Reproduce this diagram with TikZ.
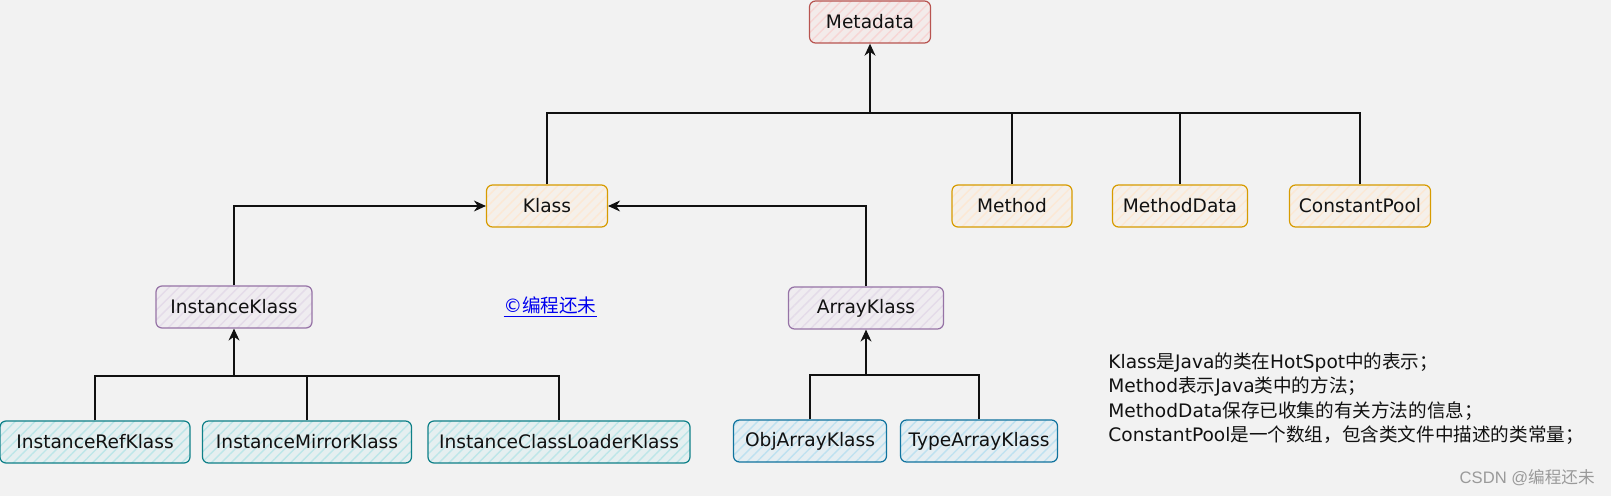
\documentclass[tikz,border=0pt]{standalone}
\usepackage{fontspec}
\setmainfont{DejaVu Sans}
\newfontfamily\cjk{Noto Sans CJK SC}
\newfontfamily\markfont{Liberation Sans}
\usepackage{tikz}
\usetikzlibrary{arrows.meta,positioning,patterns.meta}
\definecolor{Ink}{HTML}{111111}
\definecolor{Bg}{HTML}{F2F2F2}
\definecolor{RedLine}{HTML}{B85450}
\definecolor{RedSoft}{HTML}{F8CECC}
\definecolor{OrangeLine}{HTML}{D79B00}
\definecolor{OrangeSoft}{HTML}{FFE6CC}
\definecolor{PurpleLine}{HTML}{9673A6}
\definecolor{PurpleSoft}{HTML}{E1D5E7}
\definecolor{TealLine}{HTML}{0E8088}
\definecolor{TealSoft}{HTML}{B0E3E6}
\definecolor{BlueLine}{HTML}{10739E}
\definecolor{BlueSoft}{HTML}{B1DDF0}
\definecolor{LinkBlue}{HTML}{0000EE}
\definecolor{MarkGray}{HTML}{9A9A9A}
\tikzset{
  cls/.style={draw,line width=.6pt,rounded corners=3pt,minimum height=21pt,inner xsep=4pt,align=center,text=Ink,font=\fontsize{9.3}{11}\selectfont},
  clsred/.style={cls,draw=RedLine,preaction={fill=RedSoft!20!Bg},pattern={Lines[angle=45,distance=3.5pt,line width=.7pt]},pattern color=RedSoft!80!Bg},
  clsorange/.style={cls,draw=OrangeLine,preaction={fill=OrangeSoft!20!Bg},pattern={Lines[angle=45,distance=3.5pt,line width=.7pt]},pattern color=OrangeSoft!80!Bg},
  clspurple/.style={cls,draw=PurpleLine,preaction={fill=PurpleSoft!20!Bg},pattern={Lines[angle=45,distance=3.5pt,line width=.7pt]},pattern color=PurpleSoft!80!Bg},
  clsteal/.style={cls,draw=TealLine,preaction={fill=TealSoft!20!Bg},pattern={Lines[angle=45,distance=3.5pt,line width=.7pt]},pattern color=TealSoft!80!Bg},
  clsblue/.style={cls,draw=BlueLine,preaction={fill=BlueSoft!20!Bg},pattern={Lines[angle=45,distance=3.5pt,line width=.7pt]},pattern color=BlueSoft!80!Bg},
  arrow/.style={-{Stealth[length=6pt,width=5.5pt]},line width=.55pt,draw=Ink},
  link/.style={line width=.55pt,draw=Ink}
}
\begin{document}
\begin{tikzpicture}[x=.5pt,y=-.5pt]
  % canvas
  \fill[Bg] (0,0) rectangle (1611,496);
  \useasboundingbox (0,0) rectangle (1611,496);
  % top level
  \node[clsred,minimum width=60.5pt] (metadata) at (870,22) {Metadata};
  \node[clsorange,minimum width=60.5pt] (klass) at (547,206) {Klass};
  \node[clsorange,minimum width=60pt] (method) at (1012,206) {Method};
  \node[clsorange,minimum width=67.5pt] (methoddata) at (1180,206) {MethodData};
  \node[clsorange,minimum width=70.5pt] (constpool) at (1360,206) {ConstantPool};
  % klass subtypes
  \node[clspurple,minimum width=78pt] (instklass) at (234,307) {InstanceKlass};
  \node[clspurple,minimum width=77.5pt] (arrayklass) at (866,308) {ArrayKlass};
  \node[clsteal,minimum width=95pt] (instref) at (95,442) {InstanceRefKlass};
  \node[clsteal,minimum width=104.5pt] (instmirror) at (307,442) {InstanceMirrorKlass};
  \node[clsteal,minimum width=131pt] (instloader) at (559,442) {InstanceClassLoaderKlass};
  \node[clsblue,minimum width=76.5pt] (objarray) at (810,441) {ObjArrayKlass};
  \node[clsblue,minimum width=77pt] (typearray) at (979,441) {TypeArrayKlass};
  % buses
  \coordinate (metabus) at (870,113);
  \coordinate (instbus) at (234,376);
  \coordinate (arraybus) at (866,375);
  \draw[link] (klass.north) |- (metabus);
  \draw[link] (constpool.north) |- (metabus);
  \draw[link] (method.north) -- (method.north |- metabus);
  \draw[link] (methoddata.north) -- (methoddata.north |- metabus);
  \draw[arrow] (metabus) -- (metadata.south);
  \draw[arrow] (instklass.north) |- (klass.west);
  \draw[arrow] (arrayklass.north) |- (klass.east);
  \draw[link] (instref.north) |- (instloader.north |- instbus) -- (instloader.north);
  \draw[link] (instmirror.north) -- (instmirror.north |- instbus);
  \draw[arrow] (instbus) -- (instklass.south);
  \draw[link] (objarray.north) |- (typearray.north |- arraybus) -- (typearray.north);
  \draw[arrow] (arraybus) -- (arrayklass.south);
  % notes
  \node[anchor=north west,align=left,inner sep=0pt,text=Ink,font=\fontsize{9.3}{12.25}\selectfont] (notes) at (1108,352)
    {Klass{\cjk 是}Java{\cjk 的类在}HotSpot{\cjk 中的表示；}\\
     Method{\cjk 表示}Java{\cjk 类中的方法；}\\
     MethodData{\cjk 保存已收集的有关方法的信息；}\\
     ConstantPool{\cjk 是一个数组，包含类文件中描述的类常量；}};
  \node[text=LinkBlue,inner sep=0pt,font=\fontsize{9.3}{11}\selectfont] (watermark) at (550,307) {\underline{©{\cjk 编程还未}}};
  \node[anchor=east,text=MarkGray,inner sep=0pt,font=\markfont\fontsize{8.3}{10}\selectfont] (csdn) at (1595,478) {CSDN @{\cjk 编程还未}};
\end{tikzpicture}
\end{document}
